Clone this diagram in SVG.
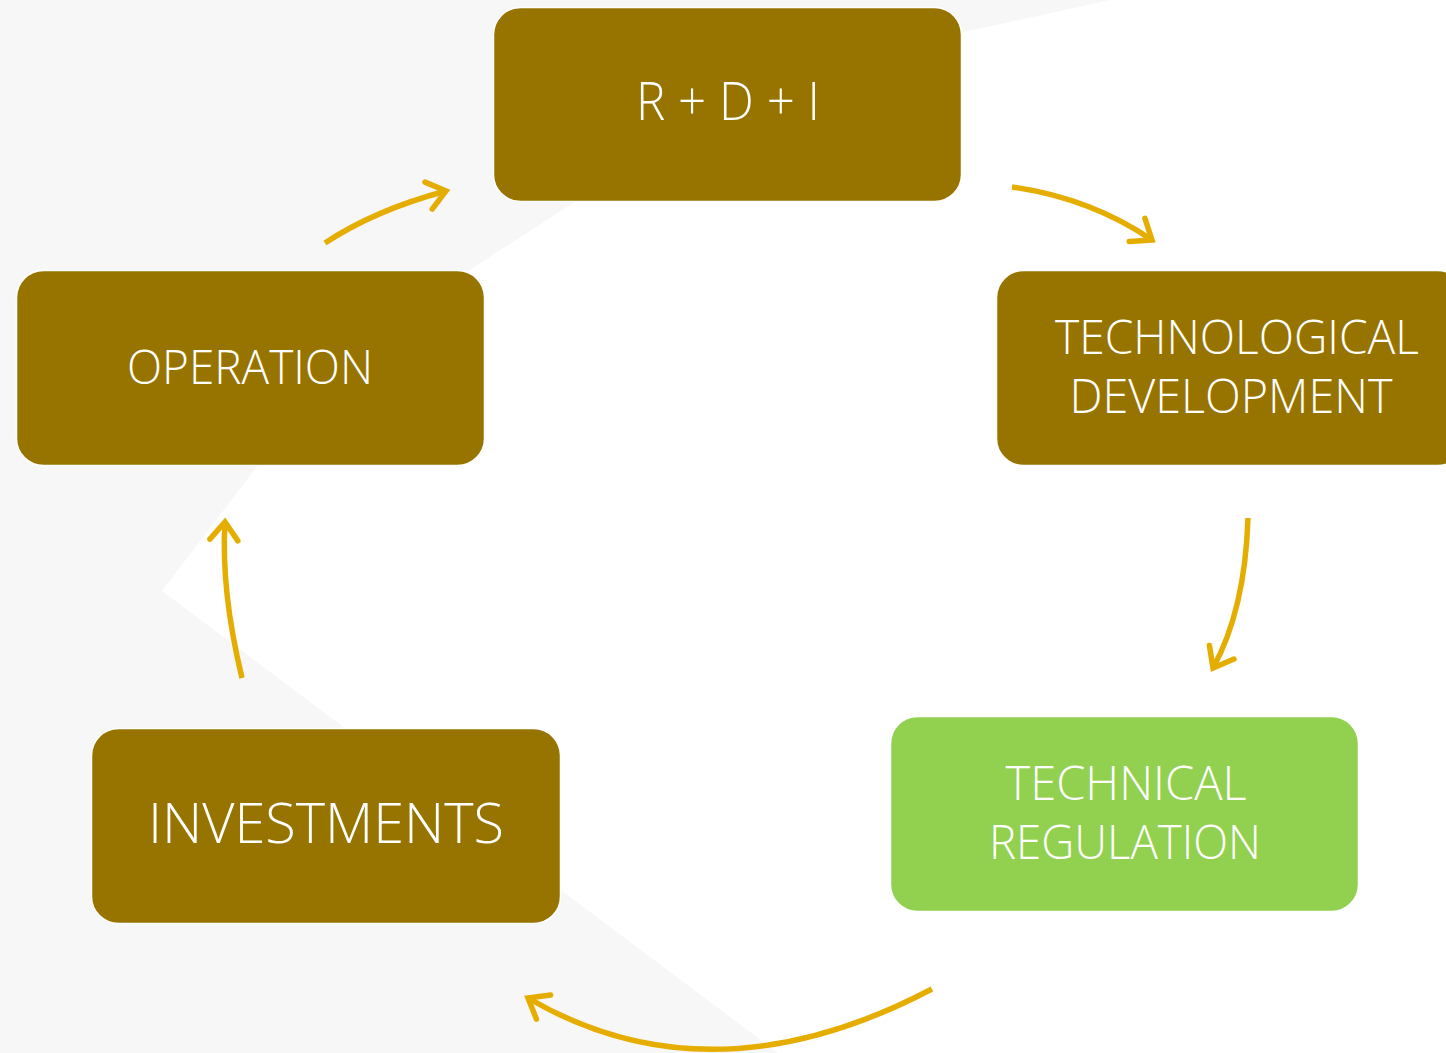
<svg xmlns="http://www.w3.org/2000/svg" width="1446" height="1053" viewBox="0 0 1446 1053">
<style>
.box{fill:#977400;stroke:#ffffff;stroke-width:1.5}
.green{fill:#92d050}
.lbl{font-family:"Open Sans","Liberation Sans",sans-serif;font-weight:300;fill:#ffffff;text-anchor:middle}
.arr{fill:none;stroke:#e4ad00;stroke-width:5.5;marker-end:url(#head)}
</style>
<defs>
<marker id="head" markerUnits="userSpaceOnUse" markerWidth="50" markerHeight="50" viewBox="-30 -25 50 50" refX="0" refY="0" orient="auto">
<path d="M-18,-14 L0,0 L-18,14" fill="none" stroke="#e4ad00" stroke-width="5.5" stroke-linecap="round" stroke-linejoin="miter"/>
</marker>
</defs>
<rect x="0" y="0" width="1446" height="1053" fill="#f7f7f7"/>
<polygon points="1110,0 1446,0 1446,1053 778,1053 162,591 345,351 770,75" fill="#ffffff"/>
<g id="connectors">
<path class="arr" d="M325,243 Q375,210 446,191"/>
<path class="arr" d="M1012,187 Q1090,198 1152,240"/>
<path class="arr" d="M1248,518 Q1245,610 1213,668"/>
<path class="arr" d="M932,989 Q711,1105 528,998"/>
<path class="arr" d="M242,678 C228,620 222,570 225,522"/>
</g>
<g id="rdi">
<rect class="box" x="493.5" y="7.5" width="468" height="194" rx="27"/>
<text class="lbl" x="728" y="120" font-size="53" textLength="184" lengthAdjust="spacingAndGlyphs">R + D + I</text>
</g>
<g id="operation">
<rect class="box" x="16.5" y="270.5" width="468" height="195" rx="27"/>
<text class="lbl" x="250" y="384" font-size="47" textLength="246" lengthAdjust="spacingAndGlyphs">OPERATION</text>
</g>
<g id="techdev">
<rect class="box" x="996.5" y="270.5" width="468" height="195" rx="27"/>
<text class="lbl" x="1237" y="354" font-size="47" textLength="364" lengthAdjust="spacingAndGlyphs">TECHNOLOGICAL</text>
<text class="lbl" x="1231" y="413" font-size="47" textLength="323" lengthAdjust="spacingAndGlyphs">DEVELOPMENT</text>
</g>
<g id="techreg">
<rect class="box green" x="890.5" y="716.5" width="468" height="195" rx="27"/>
<text class="lbl" x="1126" y="800" font-size="47" textLength="241" lengthAdjust="spacingAndGlyphs">TECHNICAL</text>
<text class="lbl" x="1125" y="859" font-size="47" textLength="272" lengthAdjust="spacingAndGlyphs">REGULATION</text>
</g>
<g id="investments">
<rect class="box" x="91.5" y="728.5" width="469" height="195" rx="27"/>
<text class="lbl" x="326" y="843" font-size="56" textLength="356" lengthAdjust="spacingAndGlyphs">INVESTMENTS</text>
</g>
</svg>
